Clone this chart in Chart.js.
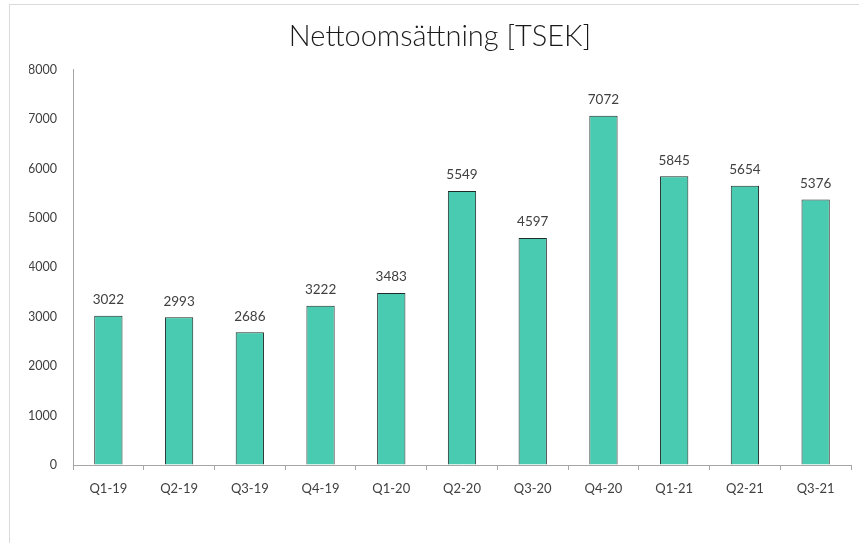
<!DOCTYPE html>
<html>
<head>
<meta charset="utf-8">
<script src="https://cdn.jsdelivr.net/npm/chart.js@4/dist/chart.umd.min.js"></script>
<style>
  html, body { margin: 0; padding: 0; background: #fff; overflow: hidden; }
  #wrap { position: relative; width: 859px; height: 543px; }
  #frame { position: absolute; left: 9px; top: 4px; width: 900px; height: 600px; border: 1px solid #d9d9d9; }
  #c { position: absolute; left: 0; top: 0; }
</style>
</head>
<body>
<div id="wrap">
  <div id="frame"></div>
  <canvas id="c" width="859" height="543"></canvas>
</div>
<script>
const quarters = ['Q1-19', 'Q2-19', 'Q3-19', 'Q4-19', 'Q1-20', 'Q2-20', 'Q3-20', 'Q4-20', 'Q1-21', 'Q2-21', 'Q3-21'];
const netSales = [3022, 2993, 2686, 3222, 3483, 5549, 4597, 7072, 5845, 5654, 5376];
const yTicks = [0, 1000, 2000, 3000, 4000, 5000, 6000, 7000, 8000];

const fontName = 'Lato, "Open Sans", sans-serif';

// skriver värdet ovanför varje stapel
const valueLabels = {
    id: 'valueLabels',
    afterDatasetsDraw(chart) {
        const ctx = chart.ctx;
        const meta = chart.getDatasetMeta(0);
        ctx.save();
        ctx.font = '13.5px ' + fontName;
        ctx.fillStyle = '#404040';
        ctx.textAlign = 'center';
        ctx.textBaseline = 'middle';
        meta.data.forEach((bar, i) => {
            ctx.fillText(String(netSales[i]), bar.x, bar.y - 16);
        });
        ctx.restore();
    }
};

new Chart(document.getElementById('c'), {
    type: 'bar',
    data: {
        labels: quarters,
        datasets: [{
            label: 'Nettoomsättning',
            data: netSales,
            backgroundColor: '#48cbb0',
            borderColor: '#1e2b28',
            borderWidth: 1,
            barPercentage: 0.4,
            categoryPercentage: 1
        }]
    },
    options: {
        responsive: false,
        animation: false,
        layout: { padding: { left: 29, right: 8, top: 0, bottom: 38 } },
        plugins: {
            legend: { display: false },
            tooltip: { enabled: false },
            title: {
                display: true,
                text: 'Nettoomsättning [TSEK]',
                color: '#1a1a1a',
                font: { family: fontName, size: 29, weight: '300', lineHeight: 1.2 },
                padding: { top: 19, bottom: 16 }
            }
        },
        scales: {
            x: {
                grid: { display: true, drawOnChartArea: false, offset: true, tickLength: 5, color: '#a6a6a6' },
                border: { display: true, color: '#a6a6a6' },
                ticks: { color: '#404040', font: { family: fontName, size: 13 }, padding: 11 },
                afterFit(scale) { scale.height = 40; }
            },
            y: {
                min: 0,
                max: 8000,
                afterBuildTicks(scale) { scale.ticks = yTicks.map(v => ({ value: v })); },
                grid: { display: true, drawOnChartArea: false, drawTicks: false },
                border: { display: true, color: '#a6a6a6' },
                ticks: {
                    color: '#404040',
                    font: { family: fontName, size: 12.5 },
                    padding: 16,
                    callback: v => String(v)
                },
                afterFit(scale) { scale.width = 44; }
            }
        }
    },
    plugins: [valueLabels]
});
</script>
</body>
</html>
